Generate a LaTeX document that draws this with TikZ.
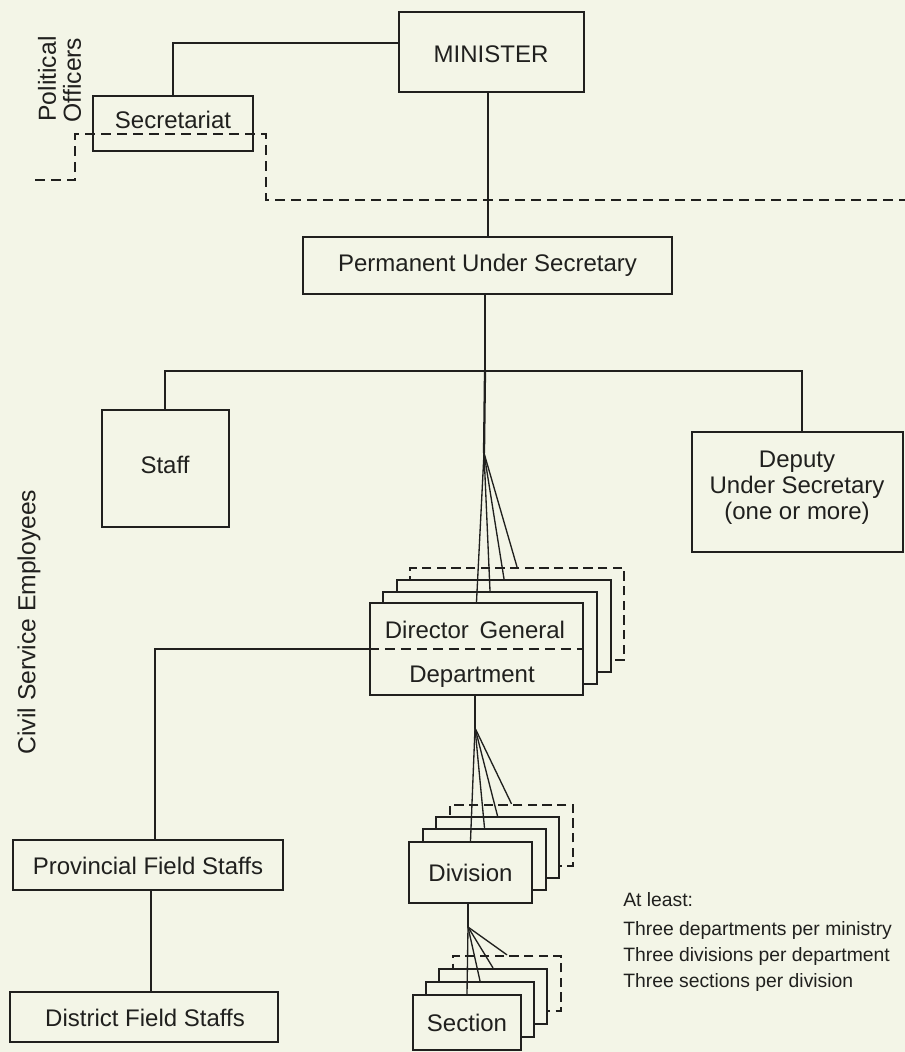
\documentclass[tikz,border=0pt]{standalone}
\usepackage{fontspec}
\setmainfont{Liberation Sans}
\usetikzlibrary{fit}
\definecolor{paper}{RGB}{243,245,231}
\definecolor{ink}{RGB}{32,32,30}
\tikzset{
  orgbox/.style={draw=ink, line width=1.7pt, fill=paper, inner sep=0pt},
  ghostbox/.style={orgbox, dash pattern=on 7pt off 4pt},
  link/.style={draw=ink, line width=1.7pt},
  fanline/.style={draw=ink, line width=1pt},
  boundary/.style={draw=ink, line width=1.6pt, dash pattern=on 7.5pt off 4.5pt},
  lbl/.style={text=ink, font=\fontsize{18}{19.5}\selectfont, inner sep=0pt, align=center},
  side/.style={text=ink, font=\fontsize{18.5}{22}\selectfont, rotate=90, inner sep=0pt},
  note/.style={text=ink, font=\fontsize{14.5}{17}\selectfont, anchor=west, inner sep=0pt},
}
\begin{document}
\begin{tikzpicture}[x=0.75pt, y=-0.75pt]
  % sheet
  \fill[paper] (0,0) rectangle (905,1052);
  \useasboundingbox (0,0) rectangle (905,1052);

  % group labels
  \node[side] (pol1) at (47,79) {Political};
  \node[side] (pol2) at (72,80) {Officers};
  \node[side] (civ) at (29,622) {Civil Service Employees};

  % top of the ministry
  \node[orgbox, fit={(399,12)(584,92)}] (min) {};
  \node[lbl] (mintxt) at (491,54) {MINISTER};
  \node[orgbox, fit={(93,96)(253,151)}] (secr) {};
  \node[lbl] (secrtxt) at (173,120) {Secretariat};
  \node[orgbox, fit={(303,237)(672,294)}] (pus) {};
  \node[lbl] (pustxt) at (pus) {Permanent Under Secretary};
  \node[orgbox, fit={(102,410)(229,527)}] (staff) {};
  \node[lbl] (stafftxt) at (165,465) {Staff};
  \node[orgbox, fit={(692,432)(903,552)}] (dep) {};
  \node[lbl, font=\fontsize{18}{19.5}\selectfont] (deptxt) at (797,488)
       {Deputy\\Under Secretary\\(one or more)};

  % departments (stacked, back to front)
  \node[ghostbox, fit={(410,568)(624,660)}] (dg4) {};
  \node[orgbox, fit={(397,580)(611,672)}] (dg3) {};
  \node[orgbox, fit={(383,592)(597,684)}] (dg2) {};
  \node[orgbox, fit={(370,603)(583,695)}] (dg1) {};
  \node[lbl] (dgtitle) at (475,630) {Director\hspace{0.45em}General};
  \node[lbl] (dgname) at (472,677) {Department};
  \draw[boundary] (dg1.west) -- (dg1.east);

  % divisions
  \node[ghostbox, fit={(450,805)(573,866)}] (div4) {};
  \node[orgbox, fit={(436,817)(559,878)}] (div3) {};
  \node[orgbox, fit={(423,829)(546,890)}] (div2) {};
  \node[orgbox, fit={(409,842)(532,903)}] (div1) {};
  \node[lbl] (divtxt) at (div1) {Division};

  % sections
  \node[ghostbox, fit={(453,956)(561,1011)}] (sect4) {};
  \node[orgbox, fit={(439,969)(547,1024)}] (sect3) {};
  \node[orgbox, fit={(426,982)(534,1037)}] (sect2) {};
  \node[orgbox, fit={(413,995)(521,1050)}] (sect1) {};
  \node[lbl] (secttxt) at (sect1) {Section};

  % field staffs
  \node[orgbox, fit={(13,840)(283,890)}] (prov) {};
  \node[lbl] (provtxt) at (148,866) {Provincial Field Staffs};
  \node[orgbox, fit={(10,992)(278,1042)}] (dist) {};
  \node[lbl] (disttxt) at (145,1018) {District Field Staffs};

  % notes
  \node[note] (n0) at (623,900) {At least:};
  \node[note] (n1) at (623,930) {Three departments per ministry};
  \node[note] (n2) at (623,956) {Three divisions per department};
  \node[note] (n3) at (623,982) {Three sections per division};

  % junction points
  \coordinate (secjoin) at (173,43);
  \coordinate (mx) at (488,0);
  \coordinate (barL) at (165,371);
  \coordinate (barC) at (485,371);
  \coordinate (barR) at (802,371);
  \coordinate (fan1) at (484,453);
  \coordinate (fan2) at (475,728);
  \coordinate (fan3) at (468,927);
  \coordinate (pj) at (155,0);
  \coordinate (dj) at (151,0);
  \coordinate (bndL) at (35,180);
  \coordinate (bndA) at (75,134);
  \coordinate (bndB) at (266,134);
  \coordinate (bndR) at (905,200);

  % political / civil service boundary
  \draw[boundary] (bndL) -| (bndA) -- (bndB) |- (bndR);

  % connectors
  \draw[link] (min.west |- secjoin) -- (secjoin) -- (secr.north);
  \draw[link] (min.south -| mx) -- (pus.north -| mx);
  \draw[link] (pus.south -| barC) -- (barC);
  \draw[link] (staff.north -| barL) -- (barL) -- (barR) -- (dep.north -| barR);
  \draw[link] (barC) -- (fan1);
  \foreach \b in {dg1,dg2,dg3,dg4} \draw[fanline] (fan1) -- (\b.north);
  \draw[link] (dg1.south -| fan2) -- (fan2);
  \foreach \b in {div1,div2,div3,div4} \draw[fanline] (fan2) -- (\b.north);
  \draw[link] (div1.south -| fan3) -- (fan3);
  \foreach \b in {sect1,sect2,sect3,sect4} \draw[fanline] (fan3) -- (\b.north);
  \draw[link] (dg1.west) -| (prov.north -| pj);
  \draw[link] (prov.south -| dj) -- (dist.north -| dj);
\end{tikzpicture}
\end{document}
